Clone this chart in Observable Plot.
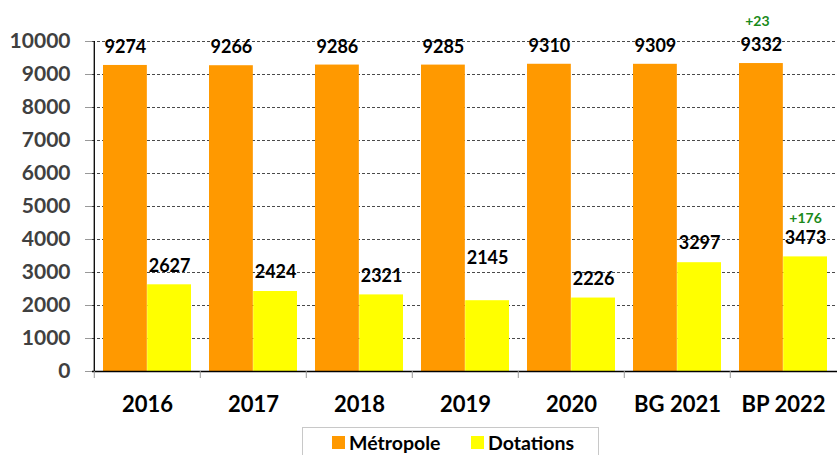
<!DOCTYPE html>
<html>
<head>
<meta charset="utf-8">
<script src="https://cdn.jsdelivr.net/npm/d3@7"></script>
<script src="https://cdn.jsdelivr.net/npm/@observablehq/plot@0.6"></script>
<style>
  html, body { margin: 0; padding: 0; background: #fff; }
  body { width: 837px; height: 455px; overflow: hidden; position: relative; font-family: Lato, "DejaVu Sans", sans-serif; }
  #legend { position: absolute; left: 302px; top: 427px; width: 297px; height: 40px; border: 1px solid #c8c8c8; box-sizing: border-box; background: #fff; }
  .item { position: absolute; top: 3px; font-weight: bold; font-size: 19.5px; color: #000; display: flex; align-items: center; }
  .sw { width: 13px; height: 13px; margin-right: 4px; display: inline-block; }
</style>
</head>
<body>
<div id="chart"></div>
<div id="legend">
  <div class="item" style="left:29px"><span class="sw" style="background:#FF9900"></span>Métropole</div>
  <div class="item" style="left:168px"><span class="sw" style="background:#FFFF00"></span>Dotations</div>
</div>
<script>
const categories = ["2016", "2017", "2018", "2019", "2020", "BG 2021", "BP 2022"];
const metropole = [9274, 9266, 9286, 9285, 9310, 9309, 9332];
const dotations = [2627, 2424, 2321, 2145, 2226, 3297, 3473];
const yTicks = [0, 1000, 2000, 3000, 4000, 5000, 6000, 7000, 8000, 9000, 10000];
const deltaCategory = "BP 2022";
const deltaMetropole = "+23";
const deltaDotations = "+176";

const rows = categories.map((c, i) => ({cat: c, met: metropole[i], dot: dotations[i], i}));
const deltaRow = rows.filter(d => d.cat === deltaCategory);

const W = 837, ML = 92, MR = 0;
const step = (W - ML - MR) / categories.length;
const padIn = 0.17;
const bw = step * (1 - padIn);
const ORANGE = "#FF9900", YELLOW = "#FFFF00";
const txt = {fontSize: 18, fontWeight: "bold", fill: "#000"};

const chart = Plot.plot({
  width: W,
  height: 424,
  marginLeft: ML,
  marginRight: MR,
  marginTop: 41,
  marginBottom: 53,
  style: {fontFamily: "Lato, 'DejaVu Sans', sans-serif", overflow: "visible", background: "transparent"},
  x: {domain: categories, paddingInner: padIn, paddingOuter: padIn / 2},
  y: {domain: [0, 10000]},
  marks: [
    Plot.ruleY(yTicks.slice(1), {stroke: "#4a4a4a", strokeWidth: 1, strokeDasharray: "3,2"}),
    Plot.barY(rows, {x: "cat", y: "met", fill: ORANGE, insetLeft: 0, insetRight: bw / 2}),
    Plot.barY(rows, {x: "cat", y: "dot", fill: YELLOW, insetLeft: bw / 2, insetRight: 0}),
    Plot.ruleY([0], {stroke: "#000", strokeWidth: 1.3}),
    Plot.ruleX([categories[0]], {y1: 0, y2: 10000, dx: -step / 2, stroke: "#000", strokeWidth: 1.3}),
    Plot.ruleX(categories, {y1: 0, y2: -212, dx: -step / 2, stroke: "#999"}),
    Plot.axisY({ticks: yTicks, tickSize: 7, tickPadding: 15, tickFormat: d => String(d), fontSize: 21, fontWeight: "bold", fill: "#404040", stroke: "#999", label: null}),
    Plot.axisX({tickSize: 0, tickPadding: 25, fontSize: 22, fontWeight: "bold", fill: "#000", label: null}),
    Plot.text(rows, {x: "cat", y: "met", text: d => String(d.met), dx: -bw / 4, dy: -18, ...txt}),
    Plot.text(rows.filter(d => d.i !== 3), {x: "cat", y: "dot", text: d => String(d.dot), dx: bw / 4, dy: -19, ...txt}),
    Plot.text(rows.filter(d => d.i === 3), {x: "cat", y: "dot", text: d => String(d.dot), dx: bw / 4, dy: -42, ...txt}),
    Plot.text(deltaRow, {x: "cat", y: "met", text: () => deltaMetropole, dx: -bw / 4 - 4, dy: -42, fontSize: 14, fontWeight: "bold", fill: "#1a8a1a"}),
    Plot.text(deltaRow, {x: "cat", y: "dot", text: () => deltaDotations, dx: bw / 4, dy: -38, fontSize: 14, fontWeight: "bold", fill: "#1a8a1a"})
  ]
});
document.getElementById("chart").appendChild(chart);
</script>
</body>
</html>
